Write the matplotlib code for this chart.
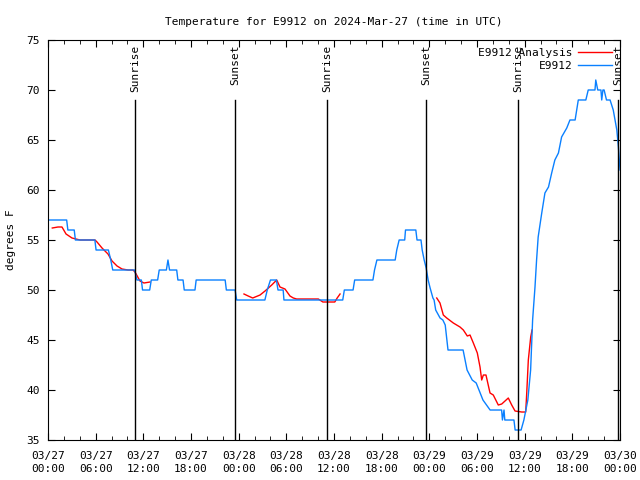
import numpy as np
import matplotlib
matplotlib.use("Agg")
import matplotlib.pyplot as plt
from matplotlib.ticker import MultipleLocator

plt.rcParams['font.family'] = ['DejaVu Sans Mono']

# hours since 03/27 00:00 UTC
obs_hours = [0, 2.35, 2.5, 3.3, 3.45, 5.9, 6.05, 7.6, 7.9, 8.15, 10.9, 11.2, 11.75, 11.9,
             12.8, 13.0, 13.8, 14.0, 14.9, 15.1, 15.3, 16.2, 16.35, 17.0, 17.15, 18.5,
             18.65, 22.3, 22.45, 23.55, 23.75, 27.3, 27.6, 28.0, 28.75, 28.95, 29.6, 29.7,
             37.1, 37.3, 38.4, 38.6, 40.9, 41.1, 41.4, 43.7, 43.9, 44.2, 44.9, 45.0, 46.3,
             46.45, 46.95, 47.1, 47.35, 47.6, 47.85, 48.1, 48.45, 48.6, 48.8, 49.35, 49.7,
             50.0, 50.35, 52.25, 52.5, 52.75, 53.4, 53.9, 54.25, 54.75, 55.65, 57.1, 57.2,
             57.4, 57.5, 58.65, 58.8, 59.55, 59.9, 60.15, 60.4, 60.75, 61.0, 61.3, 61.5,
             61.7, 62.15, 62.55, 63.0, 63.4, 63.8, 64.25, 64.65, 65.3, 65.7, 66.35, 66.75,
             67.7, 68.0, 68.85, 68.95, 69.2, 69.6, 69.7, 69.85, 70.0, 70.3, 70.75, 71.15,
             71.6, 71.8, 72.0]
obs_temp = [57, 57, 56, 56, 55, 55, 54, 54, 53, 52, 52, 51, 51, 50,
            50, 51, 51, 52, 52, 53, 52, 52, 51, 51, 50, 50,
            51, 51, 50, 50, 49, 49, 50, 51, 51, 50, 50, 49,
            49, 50, 50, 51, 51, 52, 53, 53, 54, 55, 55, 56, 56,
            55, 55, 54, 53, 52.2, 51, 50.2, 49.2, 49, 48, 47.2, 47,
            46.5, 44, 44, 43, 42, 41, 40.7, 40, 39, 38, 38, 37,
            38, 37, 37, 36, 36, 37, 38, 39, 42, 47, 50.3, 53,
            55.3, 57.7, 59.7, 60.3, 61.7, 63, 63.7, 65.3, 66.2, 67, 67, 69,
            69, 70, 70, 71, 70, 70, 69, 70, 70, 69, 69, 68,
            66, 64.3, 62]

# analysis segments (gaps between them)
ana1_hours = [0.54, 1.26, 1.76, 2.27, 3.02, 3.52, 4.03, 5.92, 6.17, 6.8, 7.55, 8.06, 8.69,
              9.32, 10.07, 10.7, 10.95, 11.58, 12.08, 12.84]
ana1_temp = [56.2, 56.3, 56.3, 55.6, 55.2, 55.1, 55.0, 55.0, 54.8, 54.2, 53.6, 52.9, 52.4,
             52.1, 52.0, 52.0, 51.8, 50.9, 50.7, 50.8]
ana2_hours = [24.67, 25.2, 25.77, 26.69, 27.32, 28.16, 28.79, 29.2, 29.83, 30.46, 30.88,
              31.3, 34.03, 34.6, 36.1, 36.4, 36.76]
ana2_temp = [49.6, 49.4, 49.2, 49.5, 49.9, 50.5, 51.0, 50.3, 50.1, 49.4, 49.2,
             49.1, 49.1, 48.8, 48.8, 49.2, 49.6]
ana3_hours = [48.93, 49.34, 49.76, 50.19, 51.02, 51.86, 52.28, 52.78, 53.12, 53.54, 54.04,
              54.38, 54.59, 54.8, 55.13, 55.64, 56.05, 56.68, 57.11, 57.94, 58.37, 58.79,
              59.63, 60.13, 60.26, 60.46, 60.76, 60.93]
ana3_temp = [49.2, 48.7, 47.5, 47.2, 46.7, 46.3, 46.0, 45.4, 45.5, 44.7, 43.7,
             42.3, 41.0, 41.5, 41.5, 39.7, 39.5, 38.5, 38.6, 39.2, 38.5, 37.9,
             37.8, 37.8, 39.7, 43.0, 45.3, 46.0]

sun_hours = [10.95, 23.54, 35.1, 47.58, 59.16, 71.75]
sun_labels = ['Sunrise', 'Sunset', 'Sunrise', 'Sunset', 'Sunrise', 'Sunset']

xtick_labels = ['03/27\n00:00', '03/27\n06:00', '03/27\n12:00', '03/27\n18:00',
                '03/28\n00:00', '03/28\n06:00', '03/28\n12:00', '03/28\n18:00',
                '03/29\n00:00', '03/29\n06:00', '03/29\n12:00', '03/29\n18:00',
                '03/30\n00:00']

fig = plt.figure(figsize=(6.4, 4.8), dpi=100)
ax = fig.add_axes([0.075, 0.0833, 0.89375, 0.8334])

red = '#ff0000'
blue = '#0a80ff'

for i, (hx, ty) in enumerate([(ana1_hours, ana1_temp), (ana2_hours, ana2_temp),
                              (ana3_hours, ana3_temp)]):
    ax.plot(hx, ty, color=red, lw=1, label='E9912 Analysis' if i == 0 else None)
ax.plot(obs_hours, obs_temp, color=blue, lw=1, label='E9912')

for h, lab in zip(sun_hours, sun_labels):
    ax.plot([h, h], [35, 69], color='black', lw=1)
    ax.text(h, 74.5, lab, rotation=90, ha='center', va='top', fontsize=8)

ax.set_xlim(0, 72)
ax.set_ylim(35, 75)
ax.set_xticks(np.arange(0, 73, 6))
ax.set_xticklabels(xtick_labels, fontsize=8, linespacing=1.3)
ax.xaxis.set_minor_locator(MultipleLocator(2))
ax.set_yticks(np.arange(35, 76, 5))
ax.tick_params(axis='y', labelsize=8)
ax.tick_params(which='both', direction='in', top=True, right=True, length=5)
ax.tick_params(which='minor', length=3)
ax.tick_params(axis='x', pad=8)
ax.tick_params(axis='y', pad=6)
ax.set_ylabel('degrees F', fontsize=8, labelpad=7)
ax.set_title('Temperature for E9912 on 2024-Mar-27 (time in UTC)', fontsize=8, pad=11)

ax.legend(loc='upper right', frameon=False, fontsize=8, markerfirst=False,
          handlelength=3, borderaxespad=0.35, labelspacing=0.2, handletextpad=0.5)

fig.savefig('out.png', dpi=100)
